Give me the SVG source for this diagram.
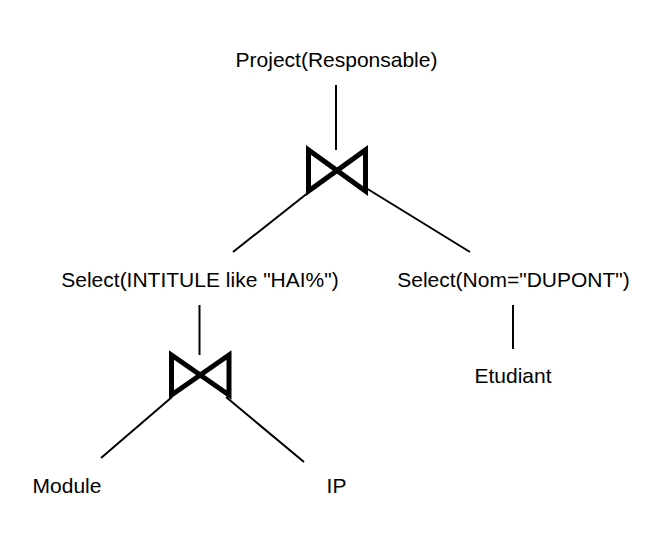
<svg xmlns="http://www.w3.org/2000/svg" width="665" height="553" viewBox="0 0 665 553">
<style>
text{font-family:"Liberation Sans",Arial,sans-serif;font-size:21px;fill:#000;text-anchor:middle}
.c line{stroke:#000;stroke-width:2}
.j{fill:none;stroke:#000;stroke-width:5;stroke-linejoin:miter}
</style>
<rect width="665" height="553" fill="#fff"/>
<g class="c" id="connectors">
<line x1="336" y1="85" x2="336" y2="150"/>
<line x1="233" y1="252" x2="309" y2="192"/>
<line x1="366" y1="188" x2="470" y2="252"/>
<line x1="199.5" y1="305" x2="199.5" y2="355"/>
<line x1="101" y1="458" x2="172" y2="397"/>
<line x1="226" y1="397" x2="304" y2="462"/>
<line x1="513" y1="305" x2="513" y2="349"/>
</g>
<g id="project"><text x="336.5" y="67">Project(Responsable)</text></g>
<g id="join1"><path class="j" d="M308.5,150 L308.5,191 L365.5,150 L365.5,191 Z"/></g>
<g id="select1"><text x="200" y="287">Select(INTITULE like "HAI%")</text></g>
<g id="select2"><text x="513.5" y="287">Select(Nom="DUPONT")</text></g>
<g id="join2"><path class="j" d="M171.5,355 L171.5,395 L229,355 L229,395 Z"/></g>
<g id="etudiant"><text x="513" y="383">Etudiant</text></g>
<g id="module"><text x="67" y="493">Module</text></g>
<g id="ip"><text x="336.5" y="493">IP</text></g>
</svg>
